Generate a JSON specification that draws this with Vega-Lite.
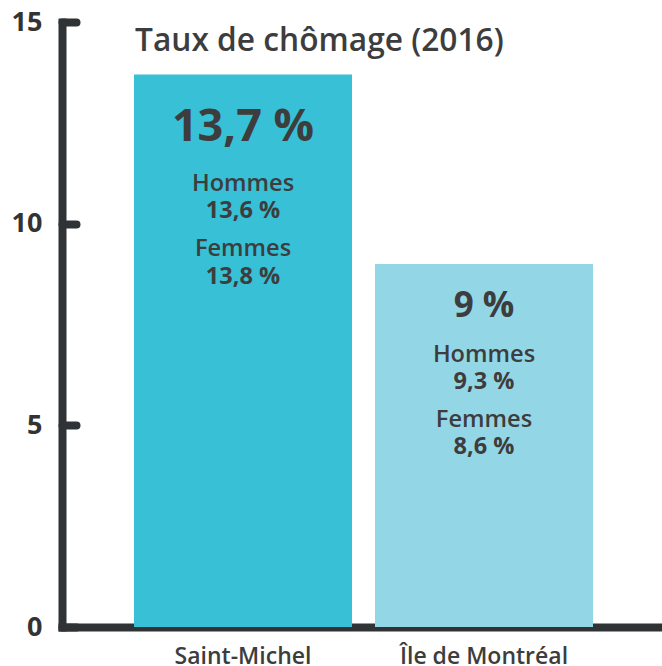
{
  "$schema": "https://vega.github.io/schema/vega-lite/v6.json",
  "width": 603,
  "height": 605,
  "autosize": {"type": "none"},
  "padding": {"left": 62, "top": 22, "right": 0, "bottom": 39},
  "background": "#ffffff",
  "config": {
    "font": "Open Sans",
    "view": {"stroke": null},
    "text": {"font": "Open Sans", "color": "#3d3d3d"}
  },
  "data": {
    "values": [
      {"region": "Saint-Michel", "taux": 13.7, "total": "13,7 %", "hommes": "13,6 %", "femmes": "13,8 %"},
      {"region": "Île de Montréal", "taux": 9.0, "total": "9 %", "hommes": "9,3 %", "femmes": "8,6 %"}
    ]
  },
  "encoding": {
    "x": {
      "field": "region",
      "type": "nominal",
      "sort": ["Saint-Michel", "Île de Montréal"],
      "scale": {"paddingInner": 0.0954, "paddingOuter": 0.2988},
      "axis": {
        "title": null,
        "labelAngle": 0,
        "labelFontSize": 23,
        "labelFontWeight": 600,
        "labelColor": "#3d3d3d",
        "labelFont": "Open Sans",
        "labelPadding": 18,
        "ticks": false,
        "tickSize": 0,
        "domainColor": "#303336",
        "domainWidth": 8,
        "domainCap": "square",
        "grid": false
      }
    },
    "y": {
      "field": "taux",
      "type": "quantitative",
      "scale": {"domain": [0, 15], "nice": false},
      "axis": {
        "title": null,
        "values": [0, 5, 10, 15],
        "grid": false,
        "labelFontSize": 27,
        "labelFontWeight": "bold",
        "labelColor": "#333333",
        "labelFont": "Open Sans",
        "labelPadding": 34,
        "tickSize": -14,
        "tickWidth": 8,
        "tickColor": "#303336",
        "tickCap": "round",
        "domainColor": "#303336",
        "domainWidth": 8,
        "domainCap": "square"
      }
    }
  },
  "layer": [
    {
      "mark": {"type": "bar"},
      "encoding": {
        "color": {
          "field": "region",
          "type": "nominal",
          "scale": {"domain": ["Saint-Michel", "Île de Montréal"], "range": ["#37c0d6", "#93d7e6"]},
          "legend": null
        }
      }
    },
    {
      "transform": [{"filter": "datum.region == 'Saint-Michel'"}],
      "layer": [
        {"mark": {"type": "text", "text": "Taux de chômage (2016)", "align": "left", "fontSize": 31.7, "fontWeight": 600, "baseline": "alphabetic", "dx": -108, "dy": -23}, "encoding": {}},
        {"mark": {"type": "text", "fontSize": 45, "fontWeight": "bold", "baseline": "alphabetic", "dy": 67}, "encoding": {"text": {"field": "total"}}},
        {"mark": {"type": "text", "fontSize": 23.6, "fontWeight": 600, "baseline": "alphabetic", "dy": 116.5, "text": "Hommes"}, "encoding": {}},
        {"mark": {"type": "text", "fontSize": 23.5, "fontWeight": "bold", "baseline": "alphabetic", "dy": 144}, "encoding": {"text": {"field": "hommes"}}},
        {"mark": {"type": "text", "fontSize": 23.6, "fontWeight": 600, "baseline": "alphabetic", "dy": 182, "text": "Femmes"}, "encoding": {}},
        {"mark": {"type": "text", "fontSize": 23.5, "fontWeight": "bold", "baseline": "alphabetic", "dy": 209.5}, "encoding": {"text": {"field": "femmes"}}}
      ]
    },
    {
      "transform": [{"filter": "datum.region == 'Île de Montréal'"}],
      "layer": [
        {"mark": {"type": "text", "fontSize": 35, "fontWeight": "bold", "baseline": "alphabetic", "dy": 53}, "encoding": {"text": {"field": "total"}}},
        {"mark": {"type": "text", "fontSize": 23.6, "fontWeight": 600, "baseline": "alphabetic", "dy": 98, "text": "Hommes"}, "encoding": {}},
        {"mark": {"type": "text", "fontSize": 23.5, "fontWeight": "bold", "baseline": "alphabetic", "dy": 124.5}, "encoding": {"text": {"field": "hommes"}}},
        {"mark": {"type": "text", "fontSize": 23.6, "fontWeight": 600, "baseline": "alphabetic", "dy": 163, "text": "Femmes"}, "encoding": {}},
        {"mark": {"type": "text", "fontSize": 23.5, "fontWeight": "bold", "baseline": "alphabetic", "dy": 189.5}, "encoding": {"text": {"field": "femmes"}}}
      ]
    }
  ]
}
